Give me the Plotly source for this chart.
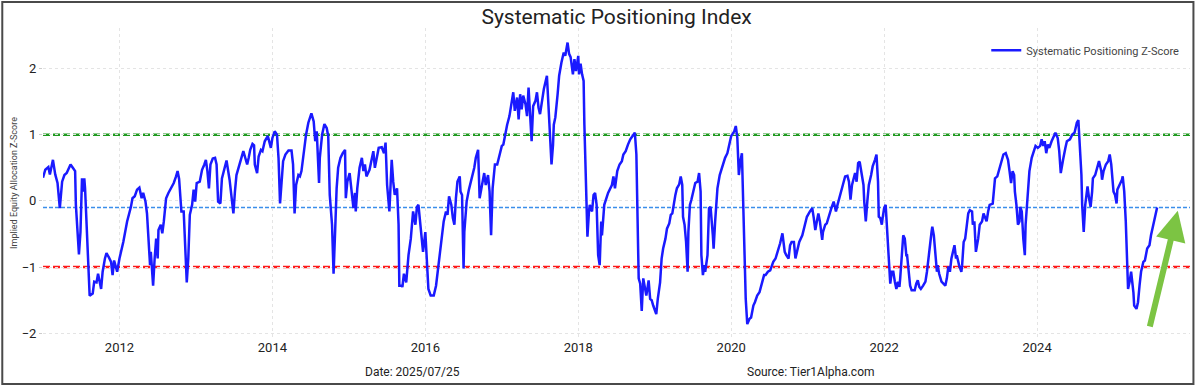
import plotly.graph_objects as go

# Decimal-year time axis and z-score values
years = [
    2011.00, 2011.03, 2011.07, 2011.09, 2011.13, 2011.16, 2011.19, 2011.22, 2011.25, 2011.28,
    2011.31, 2011.36, 2011.39, 2011.42, 2011.43, 2011.45, 2011.47, 2011.49, 2011.51, 2011.52,
    2011.54, 2011.55, 2011.57, 2011.60, 2011.61, 2011.65, 2011.67, 2011.70, 2011.72, 2011.76,
    2011.78, 2011.81, 2011.83, 2011.86, 2011.89, 2011.91, 2011.93, 2011.97, 2012.00, 2012.05,
    2012.10, 2012.15, 2012.17, 2012.20, 2012.23, 2012.26, 2012.29, 2012.31, 2012.34, 2012.36,
    2012.39, 2012.40, 2012.41, 2012.44, 2012.46, 2012.48, 2012.50, 2012.51, 2012.54, 2012.56,
    2012.58, 2012.61, 2012.64, 2012.67, 2012.71, 2012.74, 2012.76, 2012.78, 2012.81, 2012.84,
    2012.86, 2012.88, 2012.90, 2012.92, 2012.95, 2012.97, 2012.99, 2013.01, 2013.05, 2013.08,
    2013.11, 2013.13, 2013.15, 2013.17, 2013.19, 2013.22, 2013.25, 2013.27, 2013.29, 2013.32,
    2013.34, 2013.37, 2013.40, 2013.44,
    2013.47, 2013.49, 2013.51, 2013.53, 2013.57, 2013.60, 2013.62, 2013.64, 2013.67, 2013.69,
    2013.71, 2013.74, 2013.76, 2013.77, 2013.80, 2013.82, 2013.85, 2013.87, 2013.90, 2013.94,
    2013.96, 2013.98, 2014.00, 2014.03, 2014.06, 2014.08, 2014.10, 2014.12, 2014.14, 2014.17,
    2014.21, 2014.25, 2014.27, 2014.29, 2014.31, 2014.34, 2014.36, 2014.38, 2014.40, 2014.44,
    2014.47, 2014.51, 2014.54, 2014.56, 2014.58, 2014.61, 2014.62, 2014.65, 2014.68, 2014.71,
    2014.73, 2014.75, 2014.78, 2014.80, 2014.82, 2014.84, 2014.86, 2014.89, 2014.92, 2014.95,
    2014.96, 2014.98, 2015.01, 2015.03, 2015.05, 2015.06, 2015.08, 2015.09, 2015.11, 2015.14,
    2015.17, 2015.19, 2015.21, 2015.23, 2015.27, 2015.30, 2015.32, 2015.34, 2015.36, 2015.39,
    2015.43, 2015.46, 2015.48, 2015.50, 2015.53, 2015.55, 2015.56, 2015.58, 2015.60, 2015.63,
    2015.65, 2015.66, 2015.69, 2015.70, 2015.72, 2015.75, 2015.78, 2015.81, 2015.84, 2015.87,
    2015.89, 2015.91,
    2015.95, 2015.97, 2016.00, 2016.02, 2016.04, 2016.07, 2016.11, 2016.14, 2016.17, 2016.19,
    2016.22, 2016.24, 2016.27, 2016.29, 2016.31, 2016.34, 2016.36, 2016.38, 2016.40, 2016.42,
    2016.45, 2016.46, 2016.48, 2016.50, 2016.51, 2016.54, 2016.57, 2016.61, 2016.64, 2016.66,
    2016.69, 2016.71, 2016.74, 2016.77, 2016.79, 2016.82, 2016.84, 2016.86, 2016.88, 2016.91,
    2016.94, 2016.97, 2017.00, 2017.02, 2017.05, 2017.07, 2017.10, 2017.13, 2017.15, 2017.17,
    2017.20, 2017.22, 2017.24, 2017.26, 2017.28, 2017.31, 2017.33, 2017.35, 2017.37, 2017.39,
    2017.41, 2017.44, 2017.46, 2017.48, 2017.50, 2017.53, 2017.55, 2017.59, 2017.61, 2017.63,
    2017.65, 2017.67, 2017.68, 2017.70, 2017.73, 2017.75, 2017.78, 2017.81, 2017.83, 2017.86,
    2017.88, 2017.90, 2017.93, 2017.95, 2017.97, 2018.00, 2018.01, 2018.03, 2018.05, 2018.07,
    2018.08, 2018.10, 2018.12, 2018.14, 2018.15, 2018.18, 2018.20, 2018.22, 2018.24, 2018.26,
    2018.28, 2018.30, 2018.31, 2018.34, 2018.36, 2018.39,
    2018.44, 2018.46, 2018.48, 2018.51, 2018.54, 2018.57, 2018.59, 2018.62, 2018.65, 2018.68,
    2018.71, 2018.74, 2018.76, 2018.78, 2018.79, 2018.81, 2018.83, 2018.85, 2018.87, 2018.89,
    2018.91, 2018.92, 2018.94, 2018.96, 2018.98, 2019.02, 2019.04, 2019.07, 2019.09, 2019.11,
    2019.14, 2019.16, 2019.19, 2019.21, 2019.23, 2019.25, 2019.27, 2019.29, 2019.32, 2019.34,
    2019.36, 2019.37, 2019.39, 2019.41, 2019.43, 2019.44, 2019.46, 2019.48, 2019.50, 2019.53,
    2019.56, 2019.58, 2019.60, 2019.61, 2019.63, 2019.65, 2019.66, 2019.69, 2019.71, 2019.73,
    2019.76, 2019.77, 2019.79, 2019.82, 2019.85, 2019.89, 2019.92, 2019.95, 2019.97, 2020.00,
    2020.04, 2020.06, 2020.08, 2020.10, 2020.12, 2020.14, 2020.16, 2020.18, 2020.19, 2020.21,
    2020.24, 2020.26, 2020.29, 2020.31, 2020.34, 2020.37, 2020.40, 2020.43, 2020.45, 2020.48,
    2020.51, 2020.55, 2020.58, 2020.61, 2020.64, 2020.67, 2020.70, 2020.72, 2020.75, 2020.77,
    2020.79, 2020.82, 2020.84, 2020.86, 2020.89,
    2020.93, 2020.96, 2020.99, 2021.03, 2021.06, 2021.08, 2021.10, 2021.12, 2021.14, 2021.16,
    2021.19, 2021.20, 2021.23, 2021.25, 2021.28, 2021.31, 2021.34, 2021.37, 2021.39, 2021.41,
    2021.44, 2021.46, 2021.49, 2021.52, 2021.54, 2021.56, 2021.58, 2021.60, 2021.62, 2021.64,
    2021.66, 2021.68, 2021.70, 2021.73, 2021.74, 2021.76, 2021.78, 2021.80, 2021.83, 2021.85,
    2021.88, 2021.90, 2021.92, 2021.93, 2021.95, 2021.97, 2021.98, 2022.00, 2022.02, 2022.03,
    2022.05, 2022.07, 2022.08, 2022.10, 2022.12, 2022.14, 2022.16, 2022.18, 2022.20, 2022.21,
    2022.23, 2022.25, 2022.27, 2022.29, 2022.30, 2022.32, 2022.34, 2022.36, 2022.40, 2022.42,
    2022.44, 2022.46, 2022.48, 2022.51, 2022.54, 2022.56, 2022.58, 2022.60, 2022.62, 2022.63,
    2022.65, 2022.67, 2022.69, 2022.70, 2022.72, 2022.75, 2022.77, 2022.80, 2022.82, 2022.84,
    2022.86, 2022.88, 2022.90, 2022.92, 2022.94, 2022.95, 2022.98, 2023.01, 2023.02, 2023.04,
    2023.06, 2023.08, 2023.10, 2023.12, 2023.15, 2023.16, 2023.18, 2023.20, 2023.22, 2023.23,
    2023.25, 2023.28, 2023.30, 2023.32, 2023.34, 2023.36,
    2023.38, 2023.42, 2023.43, 2023.45, 2023.48, 2023.50, 2023.53, 2023.56, 2023.59, 2023.62,
    2023.64, 2023.66, 2023.68, 2023.70, 2023.71, 2023.73, 2023.75, 2023.77, 2023.78, 2023.80,
    2023.82, 2023.84, 2023.85, 2023.87, 2023.89, 2023.90, 2023.93, 2023.96, 2023.98, 2024.01,
    2024.04, 2024.06, 2024.08, 2024.10, 2024.12, 2024.14, 2024.16, 2024.19, 2024.22, 2024.24,
    2024.27, 2024.29, 2024.31, 2024.32, 2024.34, 2024.37, 2024.39, 2024.43, 2024.46, 2024.49,
    2024.52, 2024.54, 2024.56, 2024.58, 2024.59, 2024.61, 2024.63, 2024.65, 2024.66, 2024.68,
    2024.70, 2024.72, 2024.73, 2024.76, 2024.79, 2024.81, 2024.84, 2024.85, 2024.87, 2024.90,
    2024.93, 2024.95, 2024.97, 2024.99, 2025.00, 2025.02, 2025.04, 2025.05, 2025.08, 2025.11,
    2025.12, 2025.14, 2025.16, 2025.18, 2025.19, 2025.21, 2025.23, 2025.26, 2025.27, 2025.30,
    2025.32, 2025.34, 2025.36, 2025.39, 2025.41, 2025.44, 2025.47, 2025.49, 2025.52, 2025.54,
    2025.57,
]

zscore = [
    0.35, 0.47, 0.51, 0.40, 0.62, 0.40, 0.27, -0.11, 0.29, 0.39,
    0.42, 0.55, 0.50, 0.45, -0.06, -0.49, -0.81, -0.47, 0.34, 0.14,
    0.34, 0.19, -0.36, -0.97, -1.43, -1.40, -1.22, -1.23, -1.10, -1.33,
    -1.07, -0.87, -0.79, -0.85, -0.92, -1.12, -0.90, -1.07, -0.87, -0.62,
    -0.31, -0.09, 0.04, 0.07, 0.17, 0.20, 0.04, 0.12, -0.01, -0.19,
    -0.77, -0.97, -0.77, -1.28, -0.87, -0.57, -0.87, -0.44, -0.36, -0.49,
    -0.31, 0.04, 0.12, 0.19, 0.27, 0.37, 0.45, 0.33, -0.16, -0.16,
    -0.77, -1.23, -0.87, -0.21, -0.06, 0.17, -0.01, 0.27, 0.29, 0.47,
    0.55, 0.62, 0.45, 0.19, 0.55, 0.64, 0.65, 0.55, -0.01, -0.04,
    0.34, 0.50, 0.61, 0.32,
    0.04, -0.19, 0.14, 0.39, 0.55, 0.67, 0.75, 0.67, 0.55, 0.65,
    0.77, 0.86, 0.84, 0.55, 0.42, 0.67, 0.77, 0.75, 0.90, 0.98,
    0.90, 0.80, 0.95, 1.05, 1.00, 0.65, -0.04, 0.29, 0.60, 0.70,
    0.76, 0.76, 0.55, -0.19, 0.24, 0.39, 0.37, 0.45, 0.65, 1.00,
    1.18, 1.32, 1.20, 0.90, 1.05, 0.27, 0.65, 1.00, 1.16, 1.10,
    0.98, 0.09, -0.36, -1.10, -0.47, 0.19, 0.50, 0.65, 0.72, 0.77,
    0.04, 0.29, 0.42, 0.17, -0.01, -0.11, 0.12, -0.16, 0.19, 0.50,
    0.65, 0.45, 0.55, 0.37, 0.47, 0.67, 0.75, 0.50, 0.60, 0.80,
    0.81, 0.72, 0.88, 0.24, -0.16, 0.24, 0.62, 0.29, 0.09, 0.19,
    -0.36, -1.28, -1.28, -1.30, -1.10, -1.23, -0.82, -0.57, -0.16, -0.36,
    -0.09, -0.06,
    -0.57, -0.77, -0.47, -0.87, -1.33, -1.43, -1.43, -1.28, -0.97, -0.77,
    -0.47, -0.31, -0.16, -0.21, 0.07, -0.06, -0.26, -0.36, 0.04, 0.29,
    0.37, 0.14, 0.09, -1.02, -0.47, -0.01, 0.17, 0.34, 0.50, 0.65,
    0.77, 0.04, 0.24, 0.42, 0.24, 0.39, 0.14, -0.52, 0.19, 0.55,
    0.55, 0.70, 0.83, 0.85, 1.05, 1.15, 1.28, 1.46, 1.64, 1.36,
    1.56, 1.23, 1.61, 1.38, 1.59, 1.46, 1.28, 1.71, 1.36, 0.90,
    1.43, 1.51, 1.64, 1.41, 1.31, 1.56, 1.69, 1.89, 1.51, 1.00,
    0.55, 0.85, 1.15, 1.26, 1.61, 1.89, 2.09, 2.24, 2.19, 2.39,
    2.22, 2.17, 1.91, 2.14, 1.96, 2.19, 1.91, 2.07, 1.91, 1.81,
    1.15, 0.24, -0.54, -0.16, -0.06, -0.16, 0.09, 0.12, -0.06, -0.82,
    -0.97, -0.31, -0.52, -0.06, 0.02, 0.12,
    0.24, 0.37, 0.19, 0.45, 0.55, 0.60, 0.70, 0.75, 0.85, 0.93,
    0.98, 1.03, 0.70, -0.36, -1.17, -1.25, -1.66, -1.17, -1.28, -1.43,
    -1.28, -1.20, -1.48, -1.50, -1.58, -1.71, -1.48, -1.23, -0.87, -0.72,
    -0.57, -0.42, -0.34, -0.21, -0.19, -0.01, 0.09, 0.19, 0.25, 0.37,
    0.24, -0.24, -0.36, -0.62, -1.07, -0.47, -0.06, 0.02, 0.14, 0.27,
    0.29, 0.42, 0.14, -0.82, -1.12, -0.97, -1.07, -0.82, -0.11, -0.09,
    -0.52, -0.72, -0.31, 0.19, 0.39, 0.55, 0.65, 0.72, 0.85, 0.98,
    1.05, 1.13, 0.95, 0.39, 0.60, 0.72, -0.16, -1.17, -1.48, -1.86,
    -1.78, -1.76, -1.58, -1.53, -1.43, -1.38, -1.25, -1.12, -1.12, -1.07,
    -1.05, -0.92, -0.87, -0.77, -0.64, -0.49, -0.77, -0.82, -0.87, -0.67,
    -0.62, -0.62, -0.87, -0.77, -0.62,
    -0.52, -0.36, -0.24, -0.16, -0.11, -0.26, -0.44, -0.31, -0.19, -0.31,
    -0.59, -0.47, -0.36, -0.34, -0.21, -0.11, -0.01, -0.16, -0.06, 0.04,
    0.19, 0.24, 0.37, 0.38, 0.29, 0.02, 0.24, 0.32, 0.42, 0.29,
    0.57, 0.59, 0.45, 0.24, -0.01, -0.31, -0.01, 0.24, 0.39, 0.52,
    0.62, 0.70, 0.29, -0.24, -0.26, -0.36, -0.26, -0.11, -0.06, -0.26,
    -0.47, -0.87, -1.25, -1.07, -1.07, -1.22, -1.33, -1.22, -1.30, -1.17,
    -0.82, -0.52, -0.57, -0.82, -0.82, -1.07, -1.28, -1.35, -1.35, -1.25,
    -1.20, -1.30, -1.33, -1.28, -1.22, -1.07, -0.90, -0.67, -0.47, -0.39,
    -0.52, -0.87, -1.07, -0.97, -1.10, -1.22, -1.25, -1.28, -1.17, -0.99,
    -1.07, -0.87, -0.77, -0.67, -0.87, -0.82, -0.97, -1.07, -0.97, -0.62,
    -0.57, -0.36, -0.19, -0.14, -0.16, -0.36, -0.31, -0.77, -0.67, -0.57,
    -0.36, -0.31, -0.19, -0.26, -0.31, -0.16,
    -0.06, -0.04, 0.12, 0.34, 0.37, 0.45, 0.57, 0.70, 0.72, 0.62,
    0.45, 0.27, 0.45, 0.39, 0.14, -0.06, -0.36, -0.31, -0.09, -0.16,
    -0.57, -0.82, -0.36, 0.02, 0.29, 0.45, 0.65, 0.77, 0.83, 0.80,
    0.83, 0.93, 0.83, 0.90, 0.72, 0.85, 0.80, 0.90, 0.98, 1.03,
    0.95, 0.75, 0.42, 0.50, 0.62, 0.80, 0.90, 0.93, 1.00, 1.03,
    1.18, 1.22, 0.85, 0.39, -0.06, -0.47, -0.06, 0.09, 0.22, 0.04,
    -0.09, 0.14, 0.34, 0.39, 0.50, 0.60, 0.45, 0.32, 0.45, 0.55,
    0.60, 0.70, 0.55, 0.17, 0.14, 0.09, -0.04, 0.17, 0.24, 0.32,
    0.37, 0.14, -0.31, -0.97, -1.33, -1.22, -1.07, -1.38, -1.58, -1.63,
    -1.53, -1.28, -1.07, -0.92, -0.90, -0.72, -0.67, -0.52, -0.36, -0.24,
    -0.10,
]

x_ticks = [2012, 2014, 2016, 2018, 2020, 2022, 2024]
x_tick_labels = ["2012", "2014", "2016", "2018", "2020", "2022", "2024"]
y_ticks = [-2, -1, 0, 1, 2]
y_tick_labels = ["\u22122", "\u22121", "0", "1", "2"]
upper_band = 1.0
lower_band = -1.0
current_level = zscore[-1]

FONT = "Roboto"

fig = go.Figure()
fig.add_trace(go.Scatter(
    x=years, y=zscore, mode="lines",
    name="Systematic Positioning Z-Score",
    line=dict(color="#1a1aff", width=2.5),
))

# reference levels (drawn above the grid, beneath the data line)
fig.add_shape(type="line", xref="paper", x0=0, x1=1, yref="y", y0=upper_band, y1=upper_band,
              line=dict(color="#1f9a1f", width=2.5, dash="7px,3px"), layer="between")
fig.add_shape(type="line", xref="paper", x0=0, x1=1, yref="y", y0=lower_band, y1=lower_band,
              line=dict(color="#ff1a1a", width=2.5, dash="7px,3px"), layer="between")
fig.add_shape(type="line", xref="paper", x0=0, x1=1, yref="y", y0=current_level, y1=current_level,
              line=dict(color="#3b8eea", width=1.3, dash="4px,2px"), layer="between")

# outer frame
fig.add_shape(type="rect", xref="paper", yref="paper",
              x0=-0.0355, x1=1.0030, y0=-0.148, y1=1.084,
              line=dict(color="#4a4a4a", width=2), fillcolor="rgba(0,0,0,0)")

# green arrow
fig.add_annotation(x=2025.84, y=-0.15, ax=2025.47, ay=-1.92, xref="x", yref="y",
                   axref="x", ayref="y", text="", showarrow=True, arrowhead=2,
                   arrowsize=1.0, arrowwidth=6, arrowcolor="#7cc443", standoff=0)

# footer texts
fig.add_annotation(x=0.3225, y=-0.11, xref="paper", yref="paper", text="Date: 2025/07/25",
                   showarrow=False, font=dict(family=FONT, size=12, color="#222"),
                   xanchor="center", yanchor="middle")
fig.add_annotation(x=0.6695, y=-0.11, xref="paper", yref="paper", text="Source: Tier1Alpha.com",
                   showarrow=False, font=dict(family=FONT, size=12, color="#222"),
                   xanchor="center", yanchor="middle")

fig.update_layout(
    width=1200, height=389,
    margin=dict(l=43, r=10, t=28, b=51),
    paper_bgcolor="white", plot_bgcolor="white",
    title=dict(text="Systematic Positioning Index", x=0.5138, xanchor="center",
               y=0.957, yanchor="middle",
               font=dict(family=FONT, size=21, color="#222")),
    showlegend=True,
    legend=dict(x=0.995, y=0.975, xanchor="right", yanchor="top",
                bgcolor="rgba(255,255,255,0)",
                font=dict(family=FONT, size=11, color="#444")),
    xaxis=dict(range=[2011.0, 2026.0], tickvals=x_ticks, ticktext=x_tick_labels,
               showgrid=True, gridcolor="#e4e4e4", griddash="dot", gridwidth=1,
               zeroline=False, showline=False, ticks="",
               tickfont=dict(family=FONT, size=13, color="#222")),
    yaxis=dict(range=[-2.07, 2.61], tickvals=y_ticks, ticktext=y_tick_labels,
               showgrid=True, gridcolor="#e4e4e4", griddash="dot", gridwidth=1,
               zeroline=False, showline=False, ticks="outside", ticklen=3,
               tickcolor="#cccccc",
               tickfont=dict(family=FONT, size=13, color="#222"),
               title=dict(text="Implied Equity Allocation Z-Score", standoff=2,
                          font=dict(family=FONT, size=9, color="#444"))),
)

fig.write_html("out.html", config={"displayModeBar": False},
               post_script="document.body.style.margin='0';document.body.style.overflow='hidden';")
